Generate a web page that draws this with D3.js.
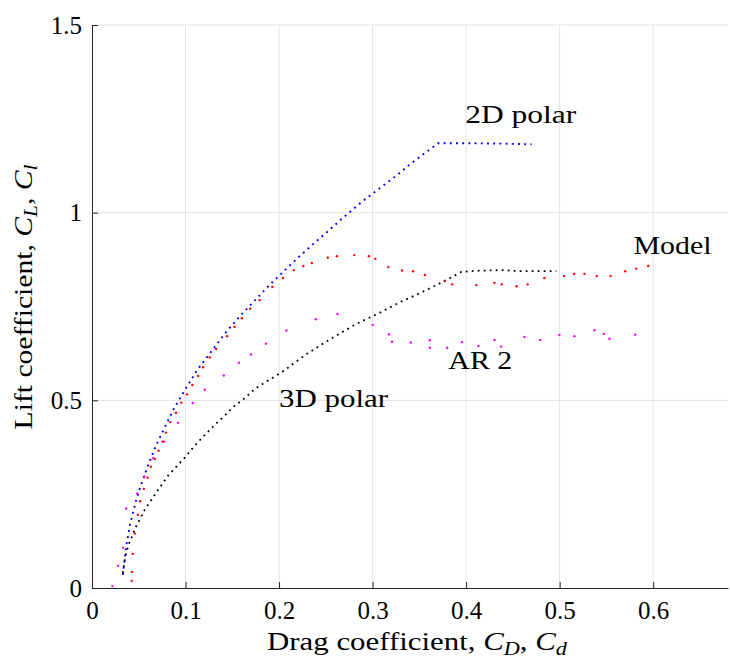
<!DOCTYPE html>
<html><head><meta charset="utf-8">
<script src="https://cdn.jsdelivr.net/npm/d3@7"></script>
<style>
body{margin:0;background:#fff}
svg{display:block}
text{font-family:"Liberation Serif","Times New Roman",serif;fill:#000}
</style>
</head><body>
<svg id="c" width="730" height="662"></svg>
<script>
// ---------- data ----------
const xTicks = [0, 0.1, 0.2, 0.3, 0.4, 0.5, 0.6];
const xTickLabels = ["0", "0.1", "0.2", "0.3", "0.4", "0.5", "0.6"];
const yTicks = [0, 0.5, 1, 1.5];
const yTickLabels = ["0", "0.5", "1", "1.5"];

// 2D polar (blue dotted line)
const polar2D_CD = [0.033,0.0365,0.0408,0.0469,0.0522,0.0597,0.0679,0.0783,0.0876,0.0987,0.1123,0.1266,0.1427,0.1585,0.1745,0.1888,0.2046,0.2207,0.2368,0.2529,0.2732,0.2911,0.3108,0.3262,0.3401,0.355,0.370,0.40,0.44,0.47];
const polar2D_CL = [0.035,0.110,0.171,0.231,0.273,0.325,0.376,0.431,0.478,0.525,0.580,0.627,0.680,0.725,0.767,0.805,0.843,0.881,0.917,0.952,0.997,1.034,1.071,1.100,1.129,1.157,1.185,1.185,1.184,1.182];

// 3D polar (black dotted line)
const polar3D_CD = [0.033,0.0336,0.0358,0.0390,0.0472,0.0565,0.0662,0.0815,0.0987,0.1087,0.1195,0.1302,0.1409,0.1517,0.1624,0.1749,0.1892,0.2053,0.2285,0.2554,0.2822,0.3090,0.3305,0.3519,0.3770,0.3948,0.4091,0.4378,0.4592,0.4965];
const polar3D_CL = [0.040,0.052,0.086,0.115,0.164,0.209,0.245,0.300,0.346,0.376,0.405,0.432,0.457,0.484,0.504,0.532,0.554,0.579,0.622,0.664,0.703,0.735,0.763,0.787,0.818,0.842,0.845,0.847,0.844,0.844];

// Model (red points)
const model_CD = [0.0425,0.0425,0.0436,0.0458,0.0490,0.0515,0.0554,0.0594,0.0629,0.0672,0.0712,0.0755,0.0791,0.0837,0.0898,0.0955,0.1016,0.1073,0.1134,0.1188,0.1259,0.1327,0.1445,0.1524,0.1602,0.1692,0.1792,0.1928,0.2042,0.2157,0.2260,0.2350,0.2521,0.2618,0.2804,0.2961,0.3030,0.3168,0.3315,0.3433,0.3559,0.3770,0.3852,0.4109,0.4303,0.4381,0.4539,0.4657,0.4836,0.5046,0.5154,0.5265,0.5397,0.5544,0.5701,0.5819,0.5947];
const model_CL = [0.019,0.043,0.091,0.145,0.195,0.231,0.264,0.294,0.323,0.344,0.366,0.390,0.414,0.442,0.467,0.494,0.516,0.541,0.565,0.588,0.614,0.637,0.671,0.696,0.719,0.744,0.767,0.802,0.826,0.847,0.858,0.866,0.880,0.884,0.887,0.884,0.877,0.855,0.846,0.844,0.834,0.818,0.809,0.807,0.813,0.809,0.804,0.809,0.826,0.831,0.837,0.837,0.831,0.831,0.844,0.851,0.858];

// AR 2 (magenta points)
const ar2_CD = [0.0218,0.0279,0.0333,0.0365,0.0483,0.0558,0.0655,0.0771,0.0919,0.1076,0.1205,0.1409,0.1570,0.1699,0.1860,0.2078,0.2393,0.2625,0.3001,0.3176,0.3208,0.3408,0.3612,0.3612,0.3798,0.3956,0.4131,0.4303,0.4374,0.4624,0.4793,0.4997,0.5158,0.5372,0.5472,0.5533,0.5808];
const ar2_CL = [0.005,0.059,0.107,0.212,0.252,0.297,0.346,0.390,0.440,0.493,0.528,0.566,0.600,0.622,0.651,0.686,0.716,0.730,0.701,0.676,0.656,0.654,0.660,0.640,0.640,0.655,0.645,0.661,0.643,0.669,0.661,0.674,0.671,0.687,0.677,0.664,0.675];

const annotations = [
  {text: "2D polar", cd: 0.399, cl: 1.240, w: 111},
  {text: "Model",    cd: 0.579, cl: 0.889, w: 78},
  {text: "AR 2",     cd: 0.381, cl: 0.583, w: 64},
  {text: "3D polar", cd: 0.200, cl: 0.482, w: 109}
];

// ---------- layout ----------
const L = 92, R = 728, T = 25, B = 588;
const svg = d3.select("#c");
const x = d3.scaleLinear().domain([0, 0.68]).range([L, R]);
const y = d3.scaleLinear().domain([0, 1.5]).range([B, T]);

const gridColor = "#e3e3e3", axisColor = "#262626";

function fit(sel, w) {
  const n = sel.node();
  const bw = n.getComputedTextLength();
  return bw > 0 ? w / bw : 1;
}

// grid
const grid = svg.append("g");
grid.selectAll("line.gx").data(xTicks.filter(d => d > 0)).join("line")
  .attr("x1", d => x(d)).attr("x2", d => x(d)).attr("y1", T).attr("y2", B)
  .attr("stroke", gridColor).attr("stroke-width", 1);
grid.selectAll("line.gy").data(yTicks.filter(d => d > 0)).join("line")
  .attr("x1", L).attr("x2", R).attr("y1", d => y(d)).attr("y2", d => y(d))
  .attr("stroke", gridColor).attr("stroke-width", 1);

// axes (ticks inside)
const xAxis = d3.axisBottom(x).tickValues(xTicks).tickSize(-6).tickSizeOuter(0)
  .tickFormat((d, i) => xTickLabels[i]);
const yAxis = d3.axisLeft(y).tickValues(yTicks).tickSize(-6).tickSizeOuter(0)
  .tickFormat((d, i) => yTickLabels[i]);

const gx = svg.append("g").attr("transform", `translate(0,${B})`).call(xAxis);
const gy = svg.append("g").attr("transform", `translate(${L},0)`).call(yAxis);
[gx, gy].forEach(g => {
  g.select(".domain").attr("stroke", axisColor).attr("stroke-width", 1);
  g.selectAll(".tick line").attr("stroke", axisColor).attr("stroke-width", 1);
  g.selectAll(".tick text").attr("fill", "#000").style("font-family", '"Liberation Serif",serif').style("font-size", "25px");
});
gx.selectAll(".tick text").attr("dy", "0.71em").attr("y", 13);
gy.selectAll(".tick text").attr("x", -10).attr("dy", "0.33em");

// data lines
const line = d3.line().x(d => x(d[0])).y(d => y(d[1]));
const p2 = polar2D_CD.map((d, i) => [d, polar2D_CL[i]]);
const p3 = polar3D_CD.map((d, i) => [d, polar3D_CL[i]]);

svg.append("path").datum(p3).attr("d", line).attr("fill", "none")
  .attr("stroke", "#000").attr("stroke-width", 1.8).attr("stroke-dasharray", "1.8 4.2");
svg.append("path").datum(p2).attr("d", line).attr("fill", "none")
  .attr("stroke", "#0000ff").attr("stroke-width", 1.9).attr("stroke-dasharray", "1.9 4.3");

// data points
const mod = model_CD.map((d, i) => [d, model_CL[i]]);
const ar = ar2_CD.map((d, i) => [d, ar2_CL[i]]);
svg.append("g").selectAll("circle").data(ar).join("circle")
  .attr("cx", d => x(d[0])).attr("cy", d => y(d[1])).attr("r", 1.2).attr("fill", "#ff00ff");
svg.append("g").selectAll("circle").data(mod).join("circle")
  .attr("cx", d => x(d[0])).attr("cy", d => y(d[1])).attr("r", 1.2).attr("fill", "#ff0000");

// annotations
annotations.forEach(a => {
  const g = svg.append("g");
  const t = g.append("text").attr("x", 0).attr("y", 0).style("font-size", "25px").text(a.text);
  const sx = fit(t, a.w);
  g.attr("transform", `translate(${x(a.cd)},${y(a.cl)}) scale(${sx},1)`);
});

// axis labels
function mathLabel(t, prefix, s1, s2) {
  t.append("tspan").text(prefix);
  t.append("tspan").style("font-style", "italic").text("C");
  t.append("tspan").style("font-style", "italic").style("font-size", "18px").attr("dy", 5).text(s1);
  t.append("tspan").attr("dy", -5).text(", ");
  t.append("tspan").style("font-style", "italic").text("C");
  t.append("tspan").style("font-style", "italic").style("font-size", "18px").attr("dy", 5).text(s2);
}
{
  const g = svg.append("g");
  const t = g.append("text").attr("text-anchor", "middle").style("font-size", "25px");
  mathLabel(t, "Drag coefficient, ", "D", "d");
  const sx = fit(t, 300);
  g.attr("transform", `translate(417,650) scale(${sx},1)`);
}
{
  const g = svg.append("g");
  const t = g.append("text").attr("text-anchor", "middle").style("font-size", "25px");
  mathLabel(t, "Lift coefficient, ", "L", "l");
  const sx = fit(t, 265);
  g.attr("transform", `translate(32,297) rotate(-90) scale(${sx},1)`);
}
</script>
</body></html>
